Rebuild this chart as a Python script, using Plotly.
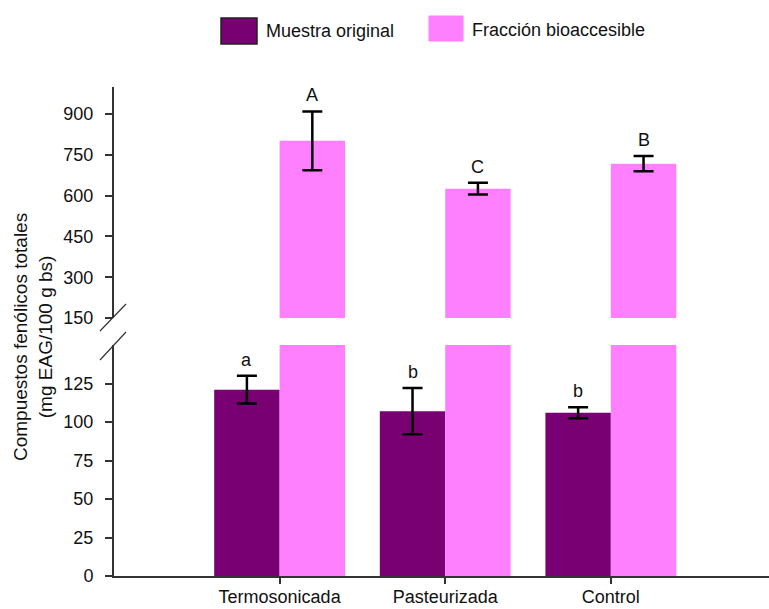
import plotly.graph_objects as go

categories = ["Termosonicada", "Pasteurizada", "Control"]
original = [121, 107, 106]
original_err = [9, 15, 3.5]
original_letters = ["a", "b", "b"]
bioacc = [802, 626, 718]
bioacc_err = [108, 22, 28]
bioacc_letters = ["A", "C", "B"]
lower_ticks = [0, 25, 50, 75, 100, 125]
upper_ticks = [150, 300, 450, 600, 750, 900]

PURPLE = "#790072"
PINK = "#ff80ff"
AXC = "#333333"
FONT = "Liberation Sans, Arial, sans-serif"

W, H = 769, 609
L, R, T, B = 114, 0, 87, 33
PW, PH = W - L - R, H - T - B


def px_x(px):
    return (px - L) / PW


def px_y(py):
    return (H - B - py) / PH


fig = go.Figure()
# lower panel (0-150)
fig.add_trace(go.Bar(x=categories, y=original, marker=dict(color=PURPLE, line=dict(width=0)),
                     error_y=dict(type="data", array=original_err, color="black", thickness=2.5, width=10),
                     xaxis="x", yaxis="y", showlegend=False))
fig.add_trace(go.Bar(x=categories, y=bioacc, marker=dict(color=PINK, line=dict(width=0)),
                     xaxis="x", yaxis="y", showlegend=False))
# upper panel (150-1000)
fig.add_trace(go.Bar(x=categories, y=original, marker=dict(color=PURPLE, line=dict(width=0)),
                     xaxis="x2", yaxis="y2", showlegend=False))
fig.add_trace(go.Bar(x=categories, y=bioacc, marker=dict(color=PINK, line=dict(width=0)),
                     error_y=dict(type="data", array=bioacc_err, color="black", thickness=2.5, width=10),
                     xaxis="x2", yaxis="y2", showlegend=False))

half = 231 / PH
fig.update_layout(
    width=W, height=H,
    margin=dict(l=L, r=R, t=T, b=B, autoexpand=False),
    paper_bgcolor="white", plot_bgcolor="white",
    barmode="group", bargap=0.21, bargroupgap=0,
    font=dict(family=FONT, size=18, color="#111111"),
    xaxis=dict(domain=[0, 1], anchor="y", range=[-1, 2.955], showline=True, linecolor=AXC, linewidth=2,
               ticks="outside", ticklen=6, tickcolor=AXC, tickwidth=1.5, showgrid=False, zeroline=False,
               mirror=False, automargin=False, ticklabelstandoff=-3, tickfont=dict(size=18)),
    xaxis2=dict(domain=[0, 1], anchor="y2", matches="x", visible=False, automargin=False),
    yaxis=dict(domain=[0, half], range=[0, 150], tickvals=lower_ticks, showline=True, linecolor=AXC,
               linewidth=2, ticks="outside", ticklen=7, tickcolor=AXC, tickwidth=1.5, showgrid=False,
               zeroline=False, mirror=False, automargin=False, ticklabelstandoff=8, tickfont=dict(size=18)),
    yaxis2=dict(domain=[1 - half, 1], range=[150, 1000], tickvals=upper_ticks, showline=True, linecolor=AXC,
                linewidth=2, ticks="outside", ticklen=7, tickcolor=AXC, tickwidth=1.5, showgrid=False,
                zeroline=False, mirror=False, automargin=False, ticklabelstandoff=8, tickfont=dict(size=18)),
)

off = 0.1975
annotations = []
for i, (v, e, t) in enumerate(zip(original, original_err, original_letters)):
    annotations.append(dict(x=i - off, y=v + e, xref="x", yref="y", text=t, showarrow=False,
                            yanchor="bottom", yshift=4, font=dict(size=18)))
for i, (v, e, t) in enumerate(zip(bioacc, bioacc_err, bioacc_letters)):
    annotations.append(dict(x=i + off, y=v + e, xref="x2", yref="y2", text=t, showarrow=False,
                            yanchor="bottom", yshift=4, font=dict(size=18)))

# y-axis title
annotations.append(dict(x=px_x(33), y=px_y(337), xref="paper", yref="paper",
                        text="Compuestos fenólicos totales<br>(mg EAG/100 g bs)", textangle=-90,
                        showarrow=False, xanchor="center", yanchor="middle", font=dict(size=19)))
# legend texts
annotations.append(dict(x=px_x(264), y=px_y(31), xref="paper", yref="paper", text="Muestra original",
                        showarrow=False, xanchor="left", yanchor="middle", font=dict(size=18)))
annotations.append(dict(x=px_x(470), y=px_y(30), xref="paper", yref="paper", text="Fracción bioaccesible",
                        showarrow=False, xanchor="left", yanchor="middle", font=dict(size=18)))

shapes = [
    dict(type="rect", xref="paper", yref="paper", x0=px_x(221), x1=px_x(257), y0=px_y(44), y1=px_y(18),
         fillcolor=PURPLE, line=dict(color="#222222", width=1.5)),
    dict(type="rect", xref="paper", yref="paper", x0=px_x(429), x1=px_x(463), y0=px_y(41), y1=px_y(16),
         fillcolor=PINK, line=dict(color=PINK, width=1)),
    # axis break marks
    dict(type="line", xref="paper", yref="paper", x0=px_x(100), y0=px_y(331), x1=px_x(126), y1=px_y(304),
         line=dict(color=AXC, width=1.2)),
    dict(type="line", xref="paper", yref="paper", x0=px_x(100), y0=px_y(360), x1=px_x(126), y1=px_y(332),
         line=dict(color=AXC, width=1.2)),
]
fig.update_layout(annotations=annotations, shapes=shapes)

fig.write_html("out.html")
